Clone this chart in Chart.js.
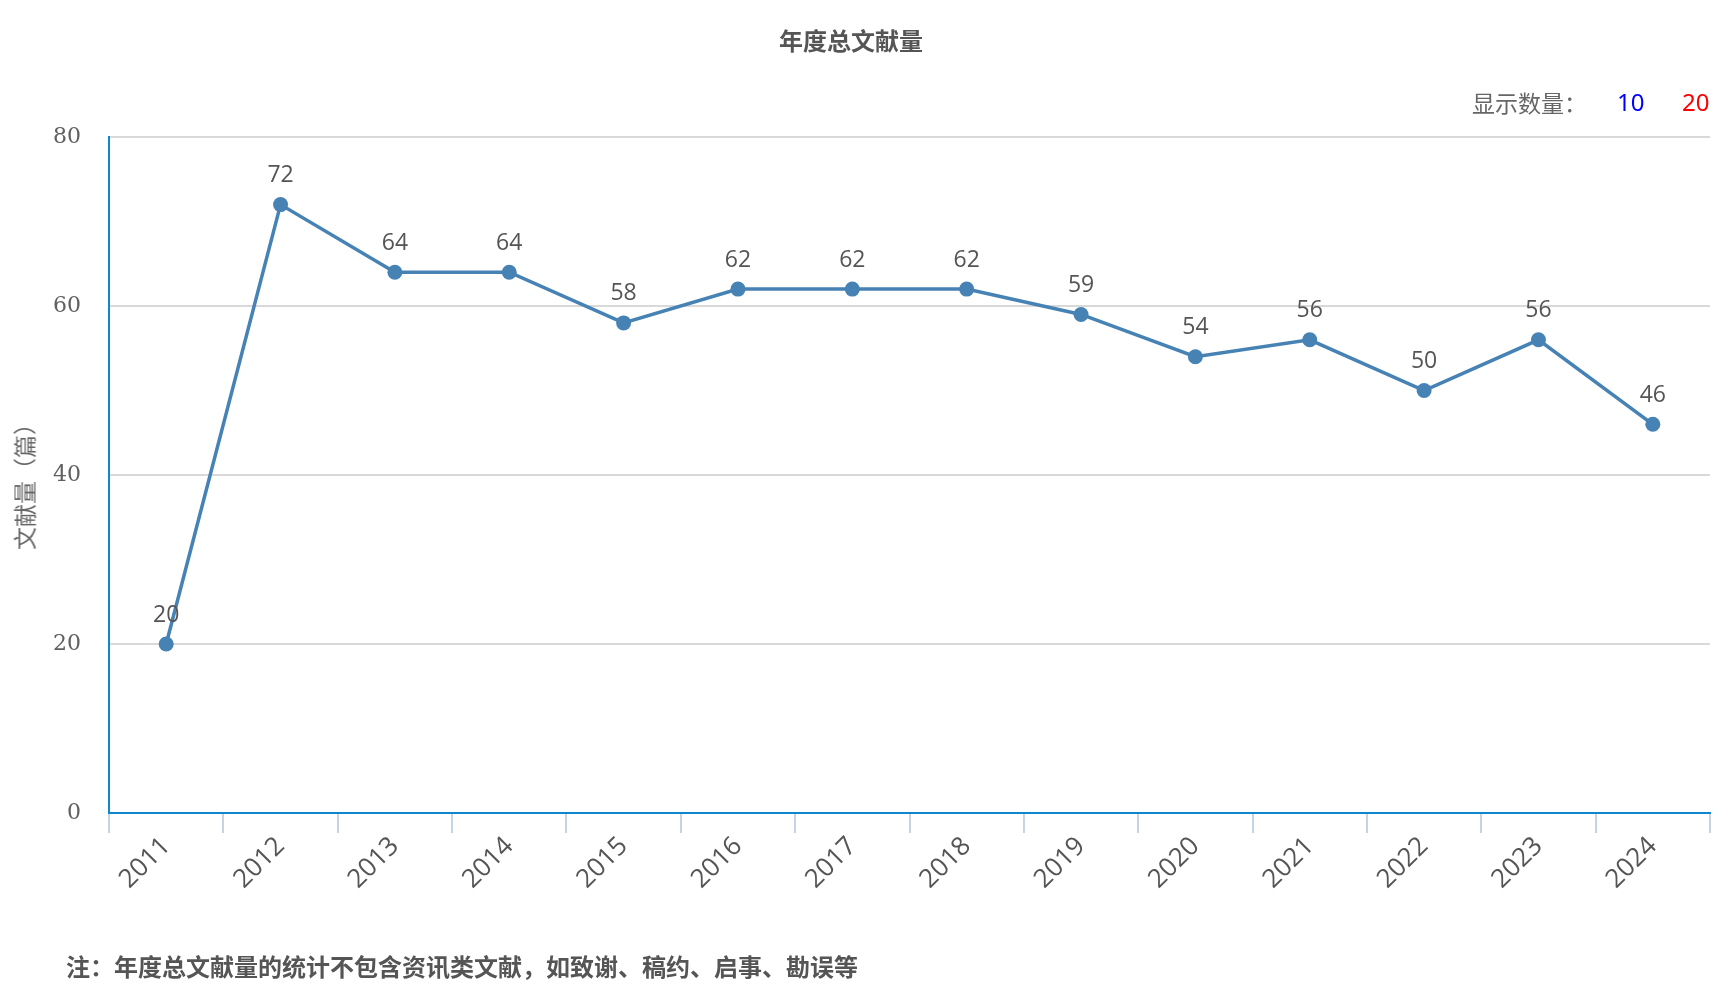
<!DOCTYPE html>
<html>
<head>
<meta charset="utf-8">
<script src="https://cdn.jsdelivr.net/npm/chart.js@4.4.1/dist/chart.umd.min.js"></script>
<style>
  body { margin: 0; background: #fff; }
  #wrap { position: relative; width: 1733px; height: 1005px; font-family: "Noto Sans CJK SC", "Noto Sans", sans-serif; }
  #chart { position: absolute; left: 0; top: 0; }
  .txt { position: absolute; white-space: nowrap; transform: translateY(-50%); line-height: 1; }
  #title { left: 851px; top: 40px; transform: translate(-50%, -50%); font-size: 24px; font-weight: bold; color: #555; }
  #ytitle { left: 24px; top: 481px; transform: translate(-50%, -50%) rotate(-90deg); font-size: 23px; color: #666; }
  #showLbl { left: 1472px; top: 102px; font-size: 23px; color: #666; }
  #show10 { left: 1617px; top: 102px; font-size: 24px; color: #0000ff; font-family: "Noto Sans", sans-serif; }
  #show20 { left: 1682px; top: 102px; font-size: 24px; color: #ff0000; font-family: "Noto Sans", sans-serif; }
  #note { left: 66px; top: 966px; font-size: 24px; font-weight: bold; color: #555; }
</style>
</head>
<body>
<div id="wrap">
  <canvas id="chart" width="1733" height="1005"></canvas>
  <div id="title" class="txt">年度总文献量</div>
  <div id="ytitle" class="txt">文献量（篇）</div>
  <div id="showLbl" class="txt">显示数量：</div>
  <div id="show10" class="txt">10</div>
  <div id="show20" class="txt">20</div>
  <div id="note" class="txt">注：年度总文献量的统计不包含资讯类文献，如致谢、稿约、启事、勘误等</div>
</div>
<script>
const years = ["2011", "2012", "2013", "2014", "2015", "2016", "2017", "2018", "2019", "2020", "2021", "2022", "2023", "2024"];
const counts = [20, 72, 64, 64, 58, 62, 62, 62, 59, 54, 56, 50, 56, 46];
const yTicks = [0, 20, 40, 60, 80];

const axisBlue = "#0e88cc";
const lineColor = "#4682b4";

// value labels above each point
const pointLabels = {
  id: "pointLabels",
  afterDatasetsDraw(chart) {
    const ctx = chart.ctx;
    const meta = chart.getDatasetMeta(0);
    ctx.save();
    ctx.font = "23px 'Open Sans', 'Noto Sans', sans-serif";
    ctx.fillStyle = "#555";
    ctx.textAlign = "center";
    ctx.textBaseline = "middle";
    meta.data.forEach((pt, i) => {
      ctx.fillText(String(counts[i]), pt.x, pt.y - 29);
    });
    ctx.restore();
  }
};

new Chart(document.getElementById("chart"), {
  type: "line",
  data: {
    labels: years,
    datasets: [
      {
        data: counts,
        borderColor: lineColor,
        backgroundColor: lineColor,
        borderWidth: 3.5,
        pointRadius: 7.5,
        pointHoverRadius: 7.5,
        pointBackgroundColor: lineColor,
        pointBorderWidth: 0,
        tension: 0,
        fill: false
      }
    ]
  },
  options: {
    responsive: false,
    animation: false,
    devicePixelRatio: 1,
    layout: { padding: { left: 0, right: 23, top: 137, bottom: 0 } },
    plugins: { legend: { display: false }, tooltip: { enabled: false } },
    scales: {
      x: {
        offset: true,
        grid: {
          offset: true,
          drawOnChartArea: false,
          drawTicks: true,
          tickLength: 20,
          color: "#c5d3e3",
          lineWidth: 2
        },
        border: { color: axisBlue, width: 2 },
        ticks: {
          minRotation: 45,
          maxRotation: 45,
          padding: -2,
          color: "#555",
          font: { family: "'Open Sans', 'Noto Sans', sans-serif", size: 26 }
        },
        afterFit(scale) { scale.height = 192; }
      },
      y: {
        min: 0,
        max: 80,
        afterBuildTicks(scale) { scale.ticks = yTicks.map((v) => ({ value: v })); },
        grid: { color: "#d9d9d9", lineWidth: 2, drawTicks: false },
        border: { color: axisBlue, width: 2 },
        ticks: {
          padding: 28,
          color: "#606060",
          font: { family: "'DejaVu Serif', serif", size: 22 }
        },
        afterFit(scale) { scale.width = 109; }
      }
    }
  },
  plugins: [pointLabels]
});
</script>
</body>
</html>
